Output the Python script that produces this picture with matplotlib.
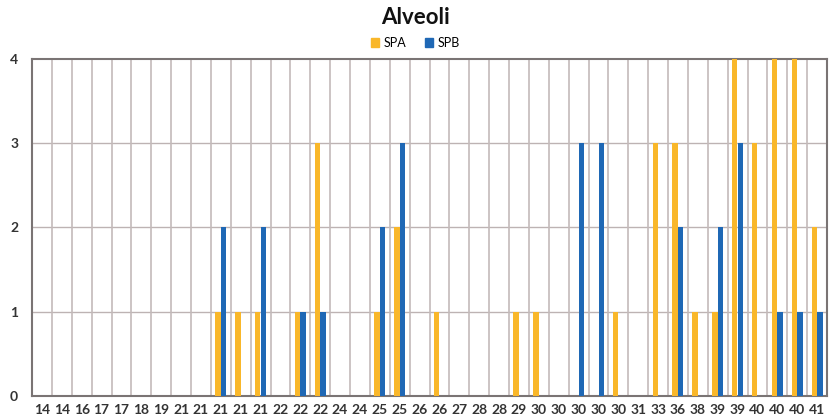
import matplotlib
matplotlib.use("Agg")
import matplotlib.pyplot as plt
import numpy as np
from matplotlib.patches import Patch

categories = ["14", "14", "16", "17", "17", "18", "19", "21", "21", "21",
              "21", "21", "22", "22", "22", "24", "24", "25", "25", "26",
              "26", "27", "28", "28", "29", "30", "30", "30", "30", "30",
              "31", "33", "36", "38", "39", "39", "40", "40", "40", "41"]
spa = [0, 0, 0, 0, 0, 0, 0, 0, 0, 1,
       1, 1, 0, 1, 3, 0, 0, 1, 2, 0,
       1, 0, 0, 0, 1, 1, 0, 0, 0, 1,
       0, 3, 3, 1, 1, 4, 3, 4, 4, 2]
spb = [0, 0, 0, 0, 0, 0, 0, 0, 0, 2,
       0, 2, 0, 1, 1, 0, 0, 2, 3, 0,
       0, 0, 0, 0, 0, 0, 0, 3, 3, 0,
       0, 0, 2, 0, 2, 3, 0, 1, 1, 1]
yticks = [0, 1, 2, 3, 4]

plt.rcParams['font.family'] = ['Lato', 'DejaVu Sans']

fig = plt.figure(figsize=(8.3, 4.19), dpi=100)
ax = fig.add_axes([32/830, 1-396/419, (827-32)/830, (396-59)/419])

x = np.arange(len(categories))
w = 0.27
c_spa = "#F9B72A"
c_spb = "#1F68B5"
ax.bar(x - 0.14, spa, width=w, color=c_spa, zorder=3)
ax.bar(x + 0.14, spb, width=w, color=c_spb, zorder=3)

ax.set_xlim(-0.5, len(categories) - 0.5)
ax.set_ylim(0, 4)
ax.set_yticks(yticks)
ax.set_yticklabels([str(v) for v in yticks], fontsize=10, fontweight='bold', color='#333333')
ax.set_xticks(x)
ax.set_xticklabels(categories, fontsize=10, fontweight='bold', color='#333333')
ax.tick_params(axis='both', length=0)
ax.tick_params(axis='x', pad=6)
ax.tick_params(axis='y', pad=10)

# gridlines
for v in yticks[1:-1]:
    ax.axhline(v, color='#BDB3B3', lw=1.0, zorder=1)
for b in np.arange(0.5, len(categories) - 0.5, 1.0):
    ax.axvline(b, color='#C4BABA', lw=1.2, zorder=1)

for s in ax.spines.values():
    s.set_color('#7A7474')
    s.set_linewidth(1.5)

fig.text(0.5, 1-18/419, "Alveoli", ha='center', va='center', fontsize=16, fontweight='bold', color='#111111')
handles = [Patch(color=c_spa, label='SPA'), Patch(color=c_spb, label='SPB')]
fig.legend(handles=handles, loc='center', bbox_to_anchor=(0.5, 1-43/419), ncol=2,
           frameon=False, fontsize=9, handlelength=0.7, handleheight=0.7,
           handletextpad=0.3, columnspacing=1.5, borderpad=0)

fig.savefig("out.png", dpi=100, facecolor='white')
